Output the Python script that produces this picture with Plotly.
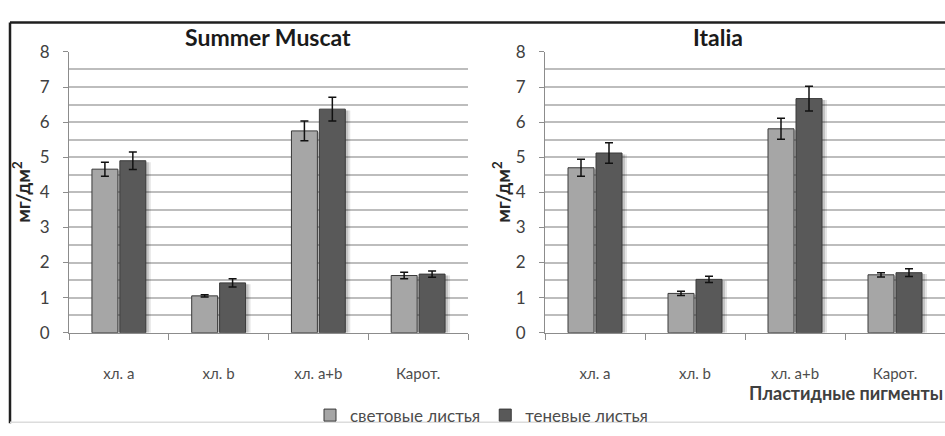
import plotly.graph_objects as go

# Pigment content (mg/dm^2) in sun vs shade leaves for two grape cultivars
categories = ["хл. a", "хл. b", "хл. a+b", "Карот."]
series_names = ["световые листья", "теневые листья"]

muscat_light = [4.66, 1.05, 5.75, 1.63]
muscat_light_err = [0.20, 0.03, 0.28, 0.09]
muscat_shade = [4.90, 1.42, 6.37, 1.67]
muscat_shade_err = [0.25, 0.12, 0.34, 0.09]

italia_light = [4.70, 1.12, 5.81, 1.65]
italia_light_err = [0.24, 0.06, 0.30, 0.06]
italia_shade = [5.12, 1.52, 6.67, 1.71]
italia_shade_err = [0.29, 0.09, 0.35, 0.11]

panel_titles = ["Summer Muscat", "Italia"]
y_title = "мг/дм<sup>2</sup>"
x_title = "Пластидные пигменты"

W, H = 945, 436
LIGHT, DARK = "#a6a6a6", "#595959"
FONT = "Lato, 'Noto Sans', sans-serif"

BAR_W = 0.26
OFFSETS = [-0.27, 0.01]


def px_x(v):
    return v / W


def px_y(v):
    return 1 - v / H


fig = go.Figure()

panels = [
    ("x", "y", muscat_light, muscat_light_err, muscat_shade, muscat_shade_err, True),
    ("x2", "y2", italia_light, italia_light_err, italia_shade, italia_shade_err, False),
]

for xa, ya, lv, le, sv, se, show in panels:
    # soft drop shadow behind each bar
    for vals, off in ((lv, OFFSETS[0]), (sv, OFFSETS[1])):
        for shift, alpha in ((0.05, 0.10), (0.03, 0.14)):
            fig.add_trace(go.Bar(
                x=categories, y=[v - 0.04 for v in vals], width=BAR_W, offset=off + shift,
                marker=dict(color=f"rgba(0,0,0,{alpha})", line=dict(width=0)),
                xaxis=xa, yaxis=ya, showlegend=False, hoverinfo="skip",
            ))
    for name, vals, errs, col, off in (
        (series_names[0], lv, le, LIGHT, OFFSETS[0]),
        (series_names[1], sv, se, DARK, OFFSETS[1]),
    ):
        fig.add_trace(go.Bar(
            x=categories, y=vals, width=BAR_W, offset=off, name=name,
            marker=dict(color=col, line=dict(color="#3a3a3a", width=1)),
            error_y=dict(type="data", array=errs, color="#111111", thickness=1.5, width=4),
            xaxis=xa, yaxis=ya, showlegend=show,
        ))

y_common = dict(
    range=[0, 8], dtick=1, showline=True, linecolor="#8c8c8c", linewidth=1,
    ticks="outside", ticklen=5, tickcolor="#8c8c8c",
    showgrid=True, gridcolor="#bdbdbd", gridwidth=1.5,
    minor=dict(dtick=0.5, showgrid=True, gridcolor="#bdbdbd", gridwidth=1.5),
    tickfont=dict(family=FONT, size=17, color="#404040"),
    ticklabelstandoff=10, zeroline=False,
    domain=[px_y(338), px_y(43)],
)
x_common = dict(
    type="category", range=[-0.5, 3.5], showline=True, linecolor="#8c8c8c", linewidth=1,
    ticks="outside", ticklen=6, tickcolor="#8c8c8c", tickson="boundaries",
    tickfont=dict(family=FONT, size=15, color="#4d4d4d"),
    ticklabelstandoff=27, showgrid=False,
)

fig.update_layout(
    width=W, height=H, margin=dict(l=0, r=0, t=0, b=0),
    paper_bgcolor="white", plot_bgcolor="white",
    barmode="overlay",
    xaxis=dict(x_common, domain=[px_x(69), px_x(468)], anchor="y"),
    yaxis=dict(y_common, anchor="x"),
    xaxis2=dict(x_common, domain=[px_x(545), 1.0], anchor="y2"),
    yaxis2=dict(y_common, anchor="x2"),
    legend=dict(
        orientation="h", x=px_x(310), y=px_y(425), xanchor="left", yanchor="middle",
        font=dict(family=FONT, size=17, color="#4d4d4d"), bgcolor="rgba(0,0,0,0)",
        itemwidth=30, tracegroupgap=0,
    ),
    font=dict(family=FONT),
)

annotations = [
    dict(text=f"<b>{panel_titles[0]}</b>", x=px_x(268), y=px_y(27)),
    dict(text=f"<b>{panel_titles[1]}</b>", x=px_x(718), y=px_y(27)),
]
for a in annotations:
    a.update(xref="paper", yref="paper", showarrow=False, xanchor="center", yanchor="middle",
             font=dict(family=FONT, size=23, color="#1a1a1a"))
    fig.add_annotation(**a)

for xp in (22, 502):
    fig.add_annotation(
        text=f"<b>{y_title}</b>", x=px_x(xp), y=px_y(190), xref="paper", yref="paper",
        showarrow=False, textangle=-90, xanchor="center", yanchor="middle",
        font=dict(family=FONT, size=19, color="#262626"),
    )

fig.add_annotation(
    text=f"<b>{x_title}</b>", x=px_x(747), y=px_y(401), xref="paper", yref="paper",
    showarrow=False, xanchor="left", yanchor="middle",
    font=dict(family=FONT, size=18, color="#404040"),
)

# chart frame
fig.add_shape(type="line", xref="paper", yref="paper", x0=px_x(10), x1=1.02,
              y0=px_y(12), y1=px_y(12), line=dict(color="#1f1f1f", width=2.5))
fig.add_shape(type="line", xref="paper", yref="paper", x0=px_x(10), x1=px_x(10),
              y0=px_y(12), y1=px_y(433), line=dict(color="#1f1f1f", width=2.5))
fig.add_shape(type="line", xref="paper", yref="paper", x0=px_x(10), x1=1.02,
              y0=px_y(432), y1=px_y(432), line=dict(color="#dcdcdc", width=1.5))

fig.write_html("out.html")
